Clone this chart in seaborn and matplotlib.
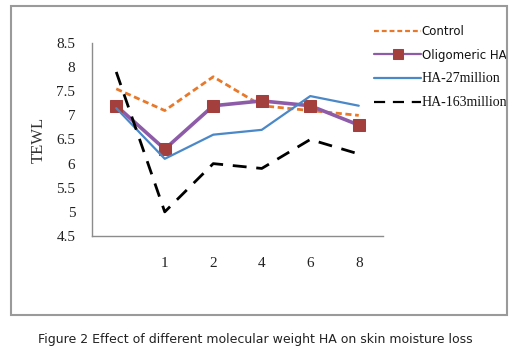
import numpy as np
import pandas as pd
import matplotlib
matplotlib.use("Agg")
import matplotlib.pyplot as plt
import seaborn as sns
from matplotlib.patches import Rectangle

# datos
categorias = ['', '1', '2', '4', '6', '8']
control = [7.55, 7.1, 7.8, 7.2, 7.1, 7.0]
oligomeric = [7.2, 6.3, 7.2, 7.3, 7.2, 6.8]
ha27 = [7.15, 6.1, 6.6, 6.7, 7.4, 7.2]
ha163 = [7.9, 5.0, 6.0, 5.9, 6.5, 6.2]
yticks = [4.5, 5, 5.5, 6, 6.5, 7, 7.5, 8, 8.5]

sns.set_style("white")
plt.rcParams['font.family'] = ['DejaVu Sans']

pos = np.arange(len(categorias))

fig = plt.figure(figsize=(5.17, 3.63), dpi=100)
ax = fig.add_axes([92/517, 1-236/363, (383-92)/517, (236-43)/363])

# marco gris alrededor de la figura
fig.patches.append(Rectangle((11/517, 1-315/363), (507-11)/517, (315-6)/363,
                             transform=fig.transFigure, fill=False,
                             edgecolor='#9a9a9a', linewidth=1.5))

sns.lineplot(x=pos, y=control, ax=ax, color='#E8792B', linewidth=2,
             label='Control')
ax.lines[-1].set_dashes((2.2, 1.3))
sns.lineplot(x=pos, y=oligomeric, ax=ax, color='#8E5BA8', linewidth=2.6,
             marker='s', markersize=8, markerfacecolor='#A3403D',
             markeredgecolor='#A3403D', label='Oligomeric HA')
sns.lineplot(x=pos, y=ha27, ax=ax, color='#4A88C8', linewidth=1.6,
             label='HA-27million')
sns.lineplot(x=pos, y=ha163, ax=ax, color='black', linewidth=2,
             label='HA-163million')
ax.lines[-1].set_dashes((5, 3.5))

ax.set_xlim(-0.5, len(categorias) - 0.5)
ax.set_ylim(4.5, 8.5)

# ejes
for s in ['top', 'right']:
    ax.spines[s].set_visible(False)
for s in ['left', 'bottom']:
    ax.spines[s].set_color('#8c8c8c')
    ax.spines[s].set_linewidth(1)

ax.set_xticks(np.arange(-0.5, len(categorias)), labels=[''] * (len(categorias) + 1))
ax.set_xticks(pos, labels=categorias, minor=True)
ax.tick_params(axis='x', which='major', direction='out', length=4, color='#8c8c8c')
ax.tick_params(axis='x', which='minor', length=0, pad=15, labelsize=11, labelcolor='#222222')
ax.set_yticks(yticks, labels=[f"{v:g}" for v in yticks])
ax.tick_params(axis='y', direction='out', length=4, color='#8c8c8c', labelsize=11,
               labelcolor='#222222', pad=8)
for t in ax.get_xticklabels(minor=True) + ax.get_yticklabels():
    t.set_fontfamily('Liberation Serif')

ax.set_xlabel('')
ax.set_ylabel('TEWL', fontfamily='Liberation Serif', fontsize=12, color='#333333',
              labelpad=7)

leg = ax.legend(loc='upper left', bbox_to_anchor=(368/517, 1-19/363),
                bbox_transform=fig.transFigure, frameon=False, handlelength=4.0,
                handletextpad=0.05, labelspacing=0.9, borderpad=0, fontsize=8.5)
for i, t in enumerate(leg.get_texts()):
    if i >= 2:
        t.set_fontfamily('Liberation Serif')
        t.set_fontsize(10)
    t.set_color('#111111')
for h in leg.get_lines():
    h.set_linewidth(1.6)
leg.get_lines()[0].set_dashes((2.2, 1.3))
leg.get_lines()[3].set_dashes((5, 3.5))
leg.get_lines()[1].set_markersize(7)

fig.text(255/517, 1-340/363,
         'Figure 2 Effect of different molecular weight HA on skin moisture loss',
         ha='center', va='center', fontsize=9, color='#222222')

fig.savefig('out.png', dpi=100)
